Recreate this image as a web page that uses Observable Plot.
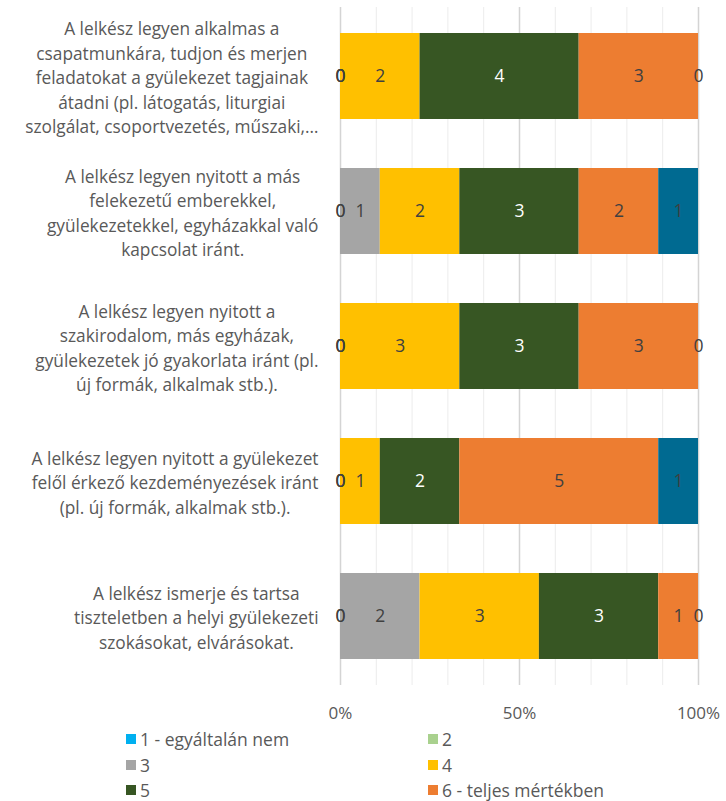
<!DOCTYPE html>
<html>
<head>
<meta charset="utf-8">
<script src="https://cdn.jsdelivr.net/npm/d3@7"></script>
<script src="https://cdn.jsdelivr.net/npm/@observablehq/plot@0.6"></script>
<style>
  html, body { margin: 0; padding: 0; background: #fff; overflow: hidden; }
  body { width: 726px; height: 801px; font-family: "Open Sans", Lato, sans-serif; }
  #legend { position: relative; height: 73px; }
  .li { position: absolute; font-size: 17.5px; line-height: 16px; color: #595959; display: flex; align-items: center; height: 16px; white-space: nowrap; }
  .sw { width: 10px; height: 10px; margin-right: 4px; }
</style>
</head>
<body>
<div id="chart"></div>
<div id="legend"></div>
<script>
// ---- data ----
const categories = [
  "A lelkész legyen alkalmas a\ncsapatmunkára, tudjon és merjen\nfeladatokat a gyülekezet tagjainak\nátadni (pl. látogatás, liturgiai\nszolgálat, csoportvezetés, műszaki,…",
  "A lelkész legyen nyitott a más\nfelekezetű emberekkel,\ngyülekezetekkel, egyházakkal való\nkapcsolat iránt.",
  "A lelkész legyen nyitott a\nszakirodalom, más egyházak,\ngyülekezetek jó gyakorlata iránt (pl.\núj formák, alkalmak stb.).",
  "A lelkész legyen nyitott a gyülekezet\nfelől érkező kezdeményezések iránt\n(pl. új formák, alkalmak stb.).",
  "A lelkész ismerje és tartsa\ntiszteletben a helyi gyülekezeti\nszokásokat, elvárásokat."
];
const seriesNames = ["1 - egyáltalán nem", "2", "3", "4", "5", "6 - teljes mértékben", "Nem tudom"];
const seriesColors = ["#00B0F0", "#A9D18E", "#A5A5A5", "#FFC000", "#375623", "#ED7D31", "#006A91"];
// values per series, one entry per category (same order as categories)
const s1 = [0, 0, 0, 0, 0];
const s2 = [0, 0, 0, 0, 0];
const s3 = [0, 1, 0, 0, 2];
const s4 = [2, 2, 3, 1, 3];
const s5 = [4, 3, 3, 2, 3];
const s6 = [3, 2, 3, 5, 1];
const s7 = [0, 1, 0, 1, 0];
const xTickLabels = [0, 0.5, 1];
const xMinorGrid = [0.1, 0.2, 0.3, 0.4, 0.6, 0.7, 0.8, 0.9];
const legendShown = 6; // the reference's legend is cut off after the third row

// ---- build table ----
const seriesValues = [s1, s2, s3, s4, s5, s6, s7];
const rows = [];
seriesNames.forEach((s, si) => {
  categories.forEach((c, ci) => rows.push({cat: c, series: s, value: seriesValues[si][ci]}));
});

const W = 726, H = 728, mL = 340, mR = 28, mT = 7, mB = 43;
const font = "'Open Sans', Lato, sans-serif";
const labelSize = 17.3;

// measure category label blocks so each block is right-aligned and lines centred
const ctx = document.createElement("canvas").getContext("2d");
ctx.font = `${labelSize}px "Open Sans"`;
const blockRight = 318;

const labelMarks = categories.map(c => {
  const w = d3.max(c.split("\n"), l => ctx.measureText(l).width);
  const cx = blockRight - w / 2;
  return Plot.text([c], {
    y: d => d, text: d => d, frameAnchor: "left", dx: cx - mL,
    textAnchor: "middle", fontSize: labelSize, fill: "#595959", lineHeight: 1.42
  });
});

const stackOpts = {x: "value", y: "cat", z: "series", offset: "normalize", order: seriesNames};

const chart = Plot.plot({
  width: W, height: H,
  marginLeft: mL, marginRight: mR, marginTop: mT, marginBottom: mB,
  style: {fontFamily: font, background: "#fff"},
  x: {domain: [0, 1], axis: null, label: null},
  y: {domain: categories, axis: null, label: null, paddingInner: 0.36, paddingOuter: 0.18},
  color: {domain: seriesNames, range: seriesColors},
  marks: [
    Plot.ruleX(xMinorGrid, {stroke: "#ececec", strokeWidth: 1}),
    Plot.ruleX(xTickLabels, {stroke: "#d4d4d4", strokeWidth: 1.5}),
    Plot.barX(rows, Plot.stackX({...stackOpts, fill: "series"})),
    Plot.text(rows, Plot.stackX({
      ...stackOpts,
      text: d => String(d.value),
      fill: d => d.series === "5" ? "#ffffff" : "#404040",
      fontSize: 17.5
    })),
    Plot.axisX(xTickLabels, {
      tickSize: 0, tickPadding: 21, tickFormat: d3.format(".0%"), label: null,
      fontSize: 17, color: "#595959"
    }),
    ...labelMarks
  ]
});
document.getElementById("chart").appendChild(chart);

// ---- legend (HTML, below the svg) ----
const legend = document.getElementById("legend");
seriesNames.slice(0, legendShown).forEach((s, i) => {
  const div = document.createElement("div");
  div.className = "li";
  div.style.left = (i % 2 === 0 ? 126 : 428) + "px";
  div.style.top = (3 + Math.floor(i / 2) * 25.5) + "px";
  div.innerHTML = `<span class="sw" style="background:${seriesColors[i]}"></span><span></span>`;
  div.lastChild.textContent = s;
  legend.appendChild(div);
});
</script>
</body>
</html>
